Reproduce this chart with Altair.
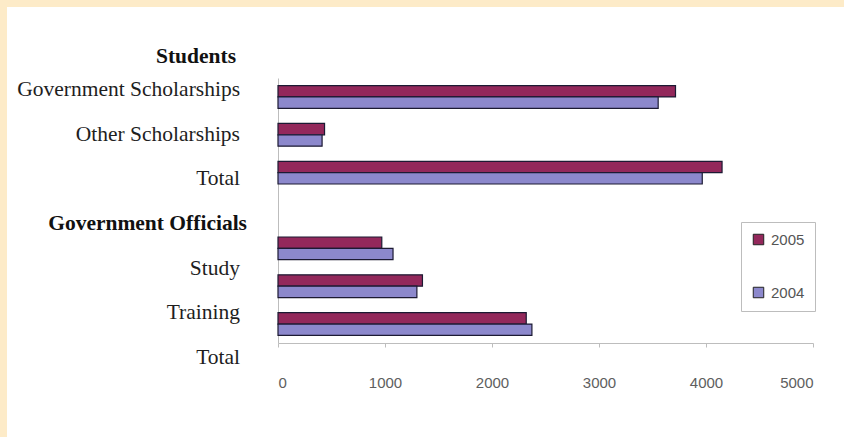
import altair as alt
import pandas as pd

# ---- data ----
bar_keys = ["Government Scholarships", "Other Scholarships", "Students Total",
            "Officials Study", "Officials Training", "Officials Total"]
spacer = " "
years = ["2005", "2004"]
values_2005 = [3715, 435, 4150, 970, 1350, 2320]
values_2004 = [3553, 412, 3965, 1075, 1298, 2373]
label_texts = ["Government Scholarships", "Other Scholarships", "Total",
               "Government Officials", "Study", "Training", "Total"]
bold_labels = ["Government Officials"]
header_text = ["Students"]
x_ticks = [0, 1000, 2000, 3000, 4000, 5000]

# ---- styles ----
CREAM = "#FDEBC8"
C2005 = "#93285B"
C2004 = "#8C88CC"
AXIS_GREY = "#BDBDBD"

rows = []
for k, a, b in zip(bar_keys, values_2005, values_2004):
    rows.append({"cat": k, "year": "2005", "value": a})
    rows.append({"cat": k, "year": "2004", "value": b})
bars_df = pd.DataFrame(rows)
bar_domain = bar_keys[:3] + [spacer] + bar_keys[3:]

bars = alt.Chart(bars_df).mark_bar(stroke="#1c1a33", strokeWidth=1.2).encode(
    x=alt.X("value:Q",
            scale=alt.Scale(domain=[0, 5000], nice=False),
            axis=alt.Axis(values=x_ticks, title=None, grid=False, format="d",
                          domainColor=AXIS_GREY, tickColor=AXIS_GREY, tickSize=4,
                          labelPadding=28, labelFont="Liberation Sans",
                          labelFontSize=15, labelColor="#5e5e5e")),
    y=alt.Y("cat:N",
            scale=alt.Scale(domain=bar_domain, paddingInner=0.4, paddingOuter=0.2),
            axis=alt.Axis(labels=False, ticks=False, title=None, grid=False,
                          domainColor=AXIS_GREY)),
    yOffset=alt.YOffset("year:N", sort=years,
                        scale=alt.Scale(domain=years, paddingInner=0, paddingOuter=0)),
    color=alt.Color("year:N",
                    scale=alt.Scale(domain=years, range=[C2005, C2004]),
                    legend=alt.Legend(title=None, orient="none", legendX=463, legendY=144,
                                      direction="vertical", padding=10, rowPadding=37,
                                      strokeColor=AXIS_GREY, fillColor="white",
                                      symbolType="square", symbolSize=110,
                                      symbolStrokeColor="#222222", symbolStrokeWidth=1,
                                      labelFont="Liberation Sans", labelFontSize=15,
                                      labelColor="#555555", labelOffset=5)),
)

labels_df = pd.DataFrame({"idx": list(range(len(label_texts))), "text": label_texts,
                          "bold": [t in bold_labels for t in label_texts]})
label_y = alt.Y("idx:O",
                scale=alt.Scale(type="point", domain=list(range(len(label_texts))),
                                range=[12, 280], padding=0),
                axis=None)

labels_normal = alt.Chart(labels_df).transform_filter(
    "!datum.bold"
).mark_text(
    align="right", baseline="middle", font="Liberation Serif", fontSize=21.5,
    color="#1e1e1e"
).encode(x=alt.value(-38), y=label_y, text="text:N")

labels_bold = alt.Chart(labels_df).transform_filter(
    "datum.bold"
).mark_text(
    align="right", baseline="middle", font="Liberation Serif", fontSize=21.5,
    fontWeight="bold", color="#111111"
).encode(x=alt.value(-31), y=label_y, text="text:N")

header = alt.Chart(pd.DataFrame({"text": header_text})).mark_text(
    align="right", baseline="middle", font="Liberation Serif", fontSize=21.5,
    fontWeight="bold", color="#111111"
).encode(x=alt.value(-42), y=alt.value(-21), text="text:N")

deco_df = pd.DataFrame({"d": [0]})
top_strip = alt.Chart(deco_df).mark_rect(color=CREAM).encode(
    x=alt.value(-278), x2=alt.value(566), y=alt.value(-78), y2=alt.value(-71))
left_strip = alt.Chart(deco_df).mark_rect(color=CREAM).encode(
    x=alt.value(-278), x2=alt.value(-271), y=alt.value(-78), y2=alt.value(359))

chart = alt.layer(top_strip, left_strip, bars, labels_normal, labels_bold, header).resolve_scale(
    y="independent"
).properties(
    width=535, height=265,
    autosize=alt.AutoSizeParams(type="none"),
    padding={"left": 278, "top": 78, "right": 31, "bottom": 94},
    background="white",
).configure_view(strokeWidth=0)

chart.save("out.html", embed_options={"renderer": "svg", "actions": False})
